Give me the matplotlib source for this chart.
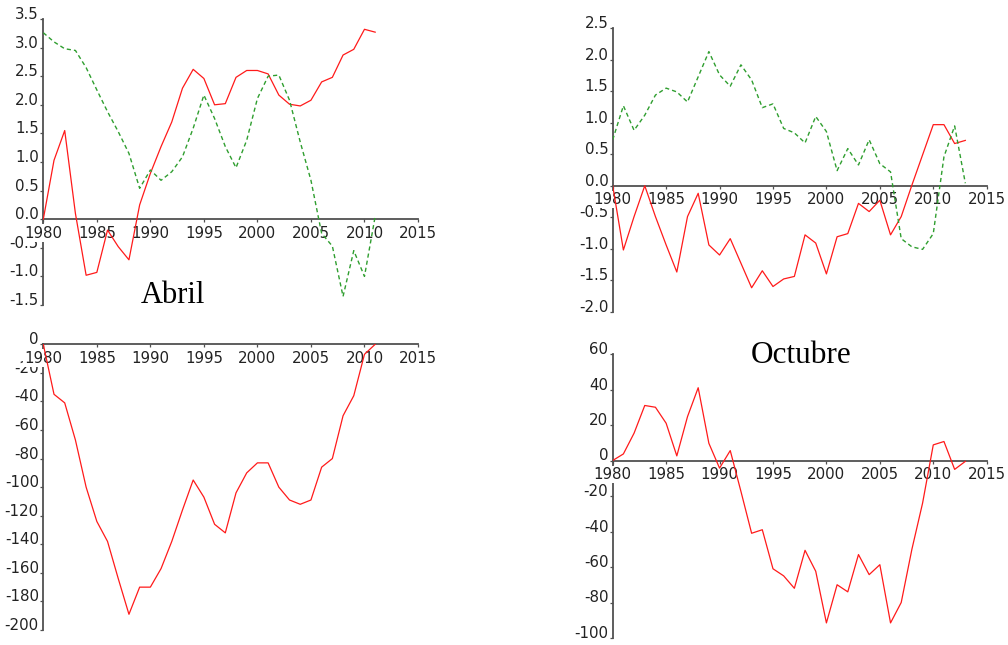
import numpy as np
import matplotlib
matplotlib.use('Agg')
import matplotlib.pyplot as plt

plt.rcParams['axes.unicode_minus'] = False
plt.rcParams['font.family'] = 'DejaVu Sans'

# years
years_abr = np.arange(1980, 2012)
years_oct = np.arange(1980, 2014)

# Abril (top left): red solid and green dashed
abr_red = [0.0, 1.03, 1.55, 0.1, -0.98, -0.93, -0.19, -0.48, -0.71, 0.25,
           0.8, 1.27, 1.7, 2.29, 2.62, 2.46, 2.0, 2.02, 2.48, 2.6,
           2.6, 2.54, 2.17, 2.01, 1.98, 2.08, 2.4, 2.48, 2.87, 2.97,
           3.32, 3.27]
abr_green = [3.26, 3.1, 2.98, 2.95, 2.65, 2.26, 1.88, 1.53, 1.15, 0.54,
             0.86, 0.68, 0.83, 1.09, 1.59, 2.17, 1.76, 1.27, 0.9, 1.38,
             2.11, 2.5, 2.52, 2.08, 1.35, 0.68, -0.25, -0.47, -1.35, -0.55,
             -1.0, 0.05]

# Octubre (top right)
oct_red = [0.0, -1.02, -0.49, 0.0, -0.49, -0.94, -1.37, -0.49, -0.12, -0.94,
           -1.1, -0.84, -1.23, -1.62, -1.35, -1.6, -1.48, -1.44, -0.78, -0.91,
           -1.4, -0.81, -0.76, -0.28, -0.41, -0.23, -0.78, -0.49, 0.01, 0.49,
           0.97, 0.97, 0.67, 0.72]
oct_green = [0.73, 1.27, 0.88, 1.12, 1.44, 1.55, 1.49, 1.33, 1.73, 2.13,
             1.76, 1.58, 1.92, 1.68, 1.24, 1.3, 0.91, 0.84, 0.68, 1.1,
             0.86, 0.24, 0.59, 0.33, 0.73, 0.35, 0.22, -0.84, -0.97, -1.01,
             -0.76, 0.46, 0.95, 0.04]

# bottom left
abr_cum = [0, -35, -41, -67, -100, -124, -138, -164, -189, -170,
           -170, -157, -138, -116, -95, -107, -126, -132, -104, -90,
           -83, -83, -100, -109, -112, -109, -86, -80, -50, -36,
           -7, 0]

# bottom right
oct_cum = [0, 3.7, 15.4, 31, 30, 21, 2.6, 24.7, 41, 9.7,
           -4.3, 5.6, -17.4, -41, -39, -61, -65, -72, -50.6, -62.4,
           -91.5, -70, -74, -53, -64.3, -58.7, -91.5, -80, -50, -24,
           8.8, 10.7, -5, -0.5]

xticks = [1980, 1985, 1990, 1995, 2000, 2005, 2010, 2015]

W, H = 1008, 645
fig = plt.figure(figsize=(W / 100, H / 100), dpi=100)


def px_axes(x0, x1, y_top, y_bot):
    return fig.add_axes([x0 / W, 1 - y_bot / H, (x1 - x0) / W, (y_bot - y_top) / H])


def style(ax, yticks, ylabels):
    ax.set_xlim(1980, 2015)
    ax.set_ylim(yticks[0], yticks[-1])
    ax.set_facecolor('none')
    for s in ['top', 'right']:
        ax.spines[s].set_visible(False)
    ax.spines['bottom'].set_position(('data', 0))
    for s in ['left', 'bottom']:
        ax.spines[s].set_color('#505050')
        ax.spines[s].set_linewidth(1.3)
        ax.spines[s].set_zorder(1.0)
    ax.set_xticks(xticks)
    ax.set_xticklabels([str(t) for t in xticks])
    ax.set_yticks(yticks)
    ax.set_yticklabels(ylabels)
    ax.tick_params(axis='both', direction='out', length=2.2, width=0.9,
                   color='#505050', labelsize=10.8, labelcolor='#222222')
    ax.tick_params(axis='x', pad=2.4)
    ax.tick_params(axis='y', pad=1.0)
    ax.yaxis.set_zorder(1.5)
    ax.xaxis.set_zorder(1.6)
    for lab in ax.get_yticklabels():
        lab.set_va('baseline')
    for lab in ax.get_xticklabels():
        lab.set_bbox(dict(facecolor='white', edgecolor='none', pad=1.0))


RED = '#ff1a1a'
GREEN = '#2f9e2f'

# top left
ax1 = px_axes(43.3, 418, 19, 305)
ax1.plot(years_abr, abr_red, color=RED, lw=0.9, zorder=2)
ax1.plot(years_abr, abr_green, color=GREEN, lw=1.0, dashes=(3, 2.2), zorder=2)
t1 = np.arange(-1.5, 3.51, 0.5)
style(ax1, t1, ['%.1f' % v for v in t1])

# top right
ax2 = px_axes(612.7, 986.7, 28.3, 311.7)
ax2.plot(years_oct, oct_red, color=RED, lw=0.9, zorder=2)
ax2.plot(years_oct, oct_green, color=GREEN, lw=1.0, dashes=(3, 2.2), zorder=2)
t2 = np.arange(-2.0, 2.51, 0.5)
style(ax2, t2, ['%.1f' % v for v in t2])

# bottom left
ax3 = px_axes(43.3, 418, 344.3, 630)
ax3.plot(years_abr, abr_cum, color=RED, lw=0.9, zorder=2)
t3 = np.arange(-200, 1, 20)
style(ax3, t3, ['%d' % v for v in t3])

# bottom right
ax4 = px_axes(612.7, 986.7, 354, 638)
ax4.plot(years_oct, oct_cum, color=RED, lw=0.9, zorder=2)
t4 = np.arange(-100, 61, 20)
style(ax4, t4, ['%d' % v for v in t4])

fig.text(172.5 / W, 1 - 303.3 / H, 'Abril', fontsize=22,
         family='Liberation Serif', ha='center', va='baseline')
fig.text(800.8 / W, 1 - 363.3 / H, 'Octubre', fontsize=22.5,
         family='Liberation Serif', ha='center', va='baseline')

fig.savefig('out.png', dpi=100, facecolor='white')
